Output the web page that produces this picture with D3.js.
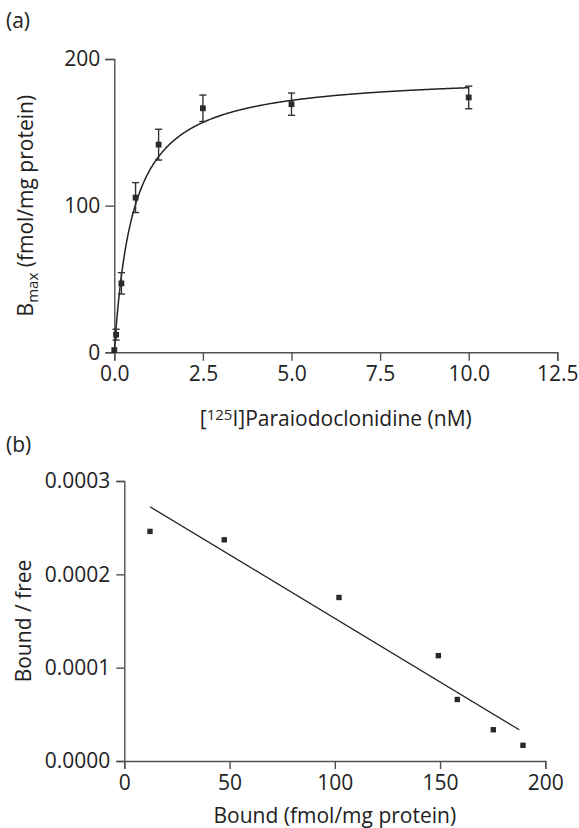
<!DOCTYPE html>
<html>
<head>
<meta charset="utf-8">
<script src="https://cdn.jsdelivr.net/npm/d3@7"></script>
<style>
  html, body { margin: 0; padding: 0; background: #fff; }
  svg { display: block; }
  text { font-family: "Open Sans", "Noto Sans", sans-serif; fill: #222; }
</style>
</head>
<body>
<svg id="chart" width="579" height="828"></svg>
<script>
// ---------- Panel (a): saturation binding ----------
const concA  = [0, 0.05, 0.2, 0.6, 1.25, 2.5, 5, 10];          // nM
const boundA = [1.5, 12, 47, 105.5, 141.6, 166.4, 169.2, 173.8]; // fmol/mg protein
const errA   = [0, 3.7, 7.3, 10.2, 10.5, 9, 7.6, 7.7];
const fitBmax = 190, fitKd = 0.53;   // fitted hyperbola parameters
const xTicksA = [0, 2.5, 5, 7.5, 10, 12.5];
const yTicksA = [0, 100, 200];

// ---------- Panel (b): Scatchard plot ----------
const boundB = [12.2, 47.5, 102, 149.2, 158.2, 175.3, 189.4];
const ratioB = [0.000246, 0.000237, 0.0001752, 0.0001129, 0.0000659, 0.0000335, 0.0000168];
const lineBx = [12.2, 187.6];
const lineBy = [0.0002724, 0.0000335];
const xTicksB = [0, 50, 100, 150, 200];
const yTicksB = [0, 0.0001, 0.0002, 0.0003];

const svg = d3.select("#chart");
const FS = 21;
const AX = "#505050";
const MK = "#2a2a2a";

function styleAxis(g) {
  g.selectAll(".domain").attr("stroke", AX).attr("stroke-width", 1.4);
  g.selectAll(".tick line").attr("stroke", AX).attr("stroke-width", 1.4);
  g.selectAll(".tick text").attr("fill", "#222").style("font-size", FS + "px")
    .style("font-family", '"Open Sans", "Noto Sans", sans-serif');
}

// ----- Panel a scales -----
const xA = d3.scaleLinear().domain([0, 12.5]).range([114.3, 557.3]);
const yA = d3.scaleLinear().domain([0, 200]).range([352.3, 59]);

const gxA = svg.append("g").attr("transform", `translate(0,${yA(0)})`)
  .call(d3.axisBottom(xA).tickValues(xTicksA).tickFormat(d3.format(".1f")).tickSizeOuter(0).tickSize(8.5).tickPadding(5));
styleAxis(gxA);
const gyA = svg.append("g").attr("transform", `translate(${xA(0)},0)`)
  .call(d3.axisLeft(yA).tickValues(yTicksA).tickFormat(d3.format("d")).tickSizeOuter(0).tickSize(9).tickPadding(5));
styleAxis(gyA);

// fitted curve
const curvePts = d3.range(0, 10.0001, 0.02).map(x => [x, fitBmax * x / (fitKd + x)]);
svg.append("path")
  .attr("d", d3.line().x(d => xA(d[0])).y(d => yA(d[1]))(curvePts))
  .attr("fill", "none").attr("stroke", "#222").attr("stroke-width", 1.5);

// error bars
const eb = svg.append("g").attr("stroke", "#333").attr("stroke-width", 1.4);
concA.forEach((c, i) => {
  if (errA[i] <= 0) return;
  const x = xA(c), y1 = yA(boundA[i] + errA[i]), y2 = yA(boundA[i] - errA[i]);
  eb.append("line").attr("x1", x).attr("x2", x).attr("y1", y1).attr("y2", y2);
  eb.append("line").attr("x1", x - 3.6).attr("x2", x + 3.6).attr("y1", y1).attr("y2", y1);
  eb.append("line").attr("x1", x - 3.6).attr("x2", x + 3.6).attr("y1", y2).attr("y2", y2);
});
// markers
const sA = 5.8;
svg.append("g").selectAll("rect").data(concA).join("rect")
  .attr("x", (d) => xA(d) - sA / 2)
  .attr("y", (d, i) => yA(boundA[i]) - sA / 2)
  .attr("width", sA).attr("height", sA).attr("fill", MK);

// labels panel a
svg.append("text").attr("x", 6).attr("y", 28).style("font-size", FS + "px").text("(a)");
const xlabA = svg.append("text").attr("x", (xA(0) + xA(12.5)) / 2).attr("y", 426)
  .attr("text-anchor", "middle").style("font-size", FS + "px");
xlabA.append("tspan").text("[");
xlabA.append("tspan").attr("dy", -6).style("font-size", "15px").text("125");
xlabA.append("tspan").attr("dy", 6).text("I]Paraiodoclonidine (nM)");

const ylabA = svg.append("text")
  .attr("transform", `translate(33,${(yA(0) + yA(200)) / 2}) rotate(-90)`)
  .attr("text-anchor", "middle").style("font-size", FS + "px");
ylabA.append("tspan").text("B");
ylabA.append("tspan").attr("dy", 5).style("font-size", "15px").text("max");
ylabA.append("tspan").attr("dy", -5).text(" (fmol/mg protein)");

// ----- Panel b scales -----
const xB = d3.scaleLinear().domain([0, 200]).range([124.3, 545.3]);
const yB = d3.scaleLinear().domain([0, 0.0003]).range([761, 481]);

const gxB = svg.append("g").attr("transform", `translate(0,${yB(0)})`)
  .call(d3.axisBottom(xB).tickValues(xTicksB).tickFormat(d3.format("d")).tickSizeOuter(0).tickSize(8).tickPadding(6));
styleAxis(gxB);
const gyB = svg.append("g").attr("transform", `translate(${xB(0)},0)`)
  .call(d3.axisLeft(yB).tickValues(yTicksB).tickFormat(d3.format(".4f")).tickSizeOuter(0).tickSize(8).tickPadding(6));
styleAxis(gyB);

svg.append("line")
  .attr("x1", xB(lineBx[0])).attr("y1", yB(lineBy[0]))
  .attr("x2", xB(lineBx[1])).attr("y2", yB(lineBy[1]))
  .attr("stroke", "#222").attr("stroke-width", 1.3);

const sB = 5.4;
svg.append("g").selectAll("rect").data(boundB).join("rect")
  .attr("x", d => xB(d) - sB / 2)
  .attr("y", (d, i) => yB(ratioB[i]) - sB / 2)
  .attr("width", sB).attr("height", sB).attr("fill", MK);

svg.append("text").attr("x", 6).attr("y", 452).style("font-size", FS + "px").text("(b)");
svg.append("text").attr("x", (xB(0) + xB(200)) / 2).attr("y", 823)
  .attr("text-anchor", "middle").style("font-size", FS + "px").text("Bound (fmol/mg protein)");
svg.append("text").attr("transform", `translate(31,${(yB(0) + yB(0.0003)) / 2}) rotate(-90)`)
  .attr("text-anchor", "middle").style("font-size", FS + "px").text("Bound / free");
</script>
</body>
</html>
